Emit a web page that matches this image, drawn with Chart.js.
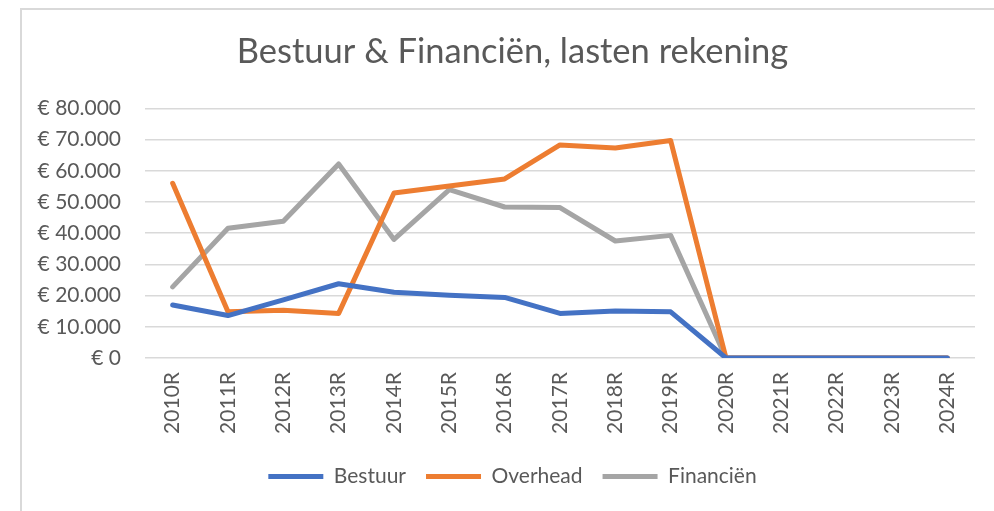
<!DOCTYPE html>
<html>
<head>
<meta charset="utf-8">
<script src="https://cdn.jsdelivr.net/npm/chart.js@4"></script>
<style>
    html, body { margin: 0; padding: 0; background: #fff; }
    #wrap { position: relative; width: 994px; height: 511px; overflow: hidden; }
    #frame {
        position: absolute; left: 20px; top: 8px; width: 1000px; height: 520px;
        border-top: 2px solid #d9d9d9; border-left: 2px solid #d9d9d9;
        pointer-events: none;
    }
    canvas { position: absolute; left: 0; top: 0; }
</style>
</head>
<body>
<div id="wrap">
    <canvas id="lastenChart" width="994" height="511"></canvas>
    <div id="frame"></div>
</div>
<script>
// lasten per jaar (rekening)
const jaren = ['2010R', '2011R', '2012R', '2013R', '2014R', '2015R', '2016R', '2017R',
    '2018R', '2019R', '2020R', '2021R', '2022R', '2023R', '2024R'];
const bestuur = [17000, 13600, 18600, 23800, 21100, 20100, 19400, 14300, 15100, 14800, 0, 0, 0, 0, 0];
const overhead = [56000, 14800, 15300, 14300, 52900, 55100, 57400, 68300, 67300, 69700, 0, 0, 0, 0, 0];
const financien = [22800, 41600, 43800, 62200, 38000, 54000, 48400, 48200, 37500, 39300, 0, 0, 0, 0, 0];

const textColor = '#595959';
Chart.defaults.font.family = 'Lato, "Open Sans", sans-serif';
Chart.defaults.color = textColor;

function euro(v) {
    return '€ ' + String(v).replace(/\B(?=(\d{3})+(?!\d))/g, '.');
}

function lijn(label, data, color) {
    return {
        label: label,
        data: data,
        borderColor: color,
        backgroundColor: color,
        borderWidth: 5,
        borderCapStyle: 'round',
        borderJoinStyle: 'round',
        pointRadius: 0,
        tension: 0
    };
}

// titel en legenda iets naar rechts schuiven (midden van het kader)
const blokkenSchuiven = {
    id: 'blokkenSchuiven',
    afterLayout(chart) {
        chart.titleBlock.left += 25;
        chart.titleBlock.right += 25;
        chart.legend.left += 25;
        chart.legend.right += 25;
    }
};

const ctx = document.getElementById('lastenChart').getContext('2d');
new Chart(ctx, {
    type: 'line',
    data: {
        labels: jaren,
        datasets: [
            lijn('Bestuur', bestuur, '#4472C4'),
            lijn('Overhead', overhead, '#ED7D31'),
            lijn('Financiën', financien, '#A5A5A5')
        ]
    },
    plugins: [blokkenSchuiven],
    options: {
        responsive: false,
        animation: false,
        layout: {
            padding: { left: 0, right: 19, top: 0, bottom: 14 }
        },
        plugins: {
            title: {
                display: true,
                text: 'Bestuur & Financiën, lasten rekening',
                color: textColor,
                font: { size: 34.5, weight: 'normal', lineHeight: 1.2 },
                padding: { top: 31, bottom: 36 }
            },
            legend: {
                position: 'bottom',
                labels: {
                    usePointStyle: true,
                    pointStyle: 'line',
                    pointStyleWidth: 55,
                    padding: 20,
                    color: textColor,
                    font: { size: 21 }
                }
            },
            tooltip: { enabled: false }
        },
        scales: {
            x: {
                offset: true,
                grid: { display: false },
                border: { display: false },
                ticks: {
                    minRotation: 90,
                    maxRotation: 90,
                    padding: 6,
                    color: textColor,
                    font: { size: 21 }
                },
                afterFit: function (scale) { scale.height = 88; }
            },
            y: {
                min: 0,
                max: 80000,
                grid: { color: '#d9d9d9', lineWidth: 1.5, drawTicks: false },
                border: { display: false },
                ticks: {
                    stepSize: 10000,
                    padding: 24,
                    color: textColor,
                    font: { size: 21 },
                    callback: function (v) { return euro(v); }
                },
                afterFit: function (scale) { scale.width = 145; }
            }
        }
    }
});
</script>
</body>
</html>
